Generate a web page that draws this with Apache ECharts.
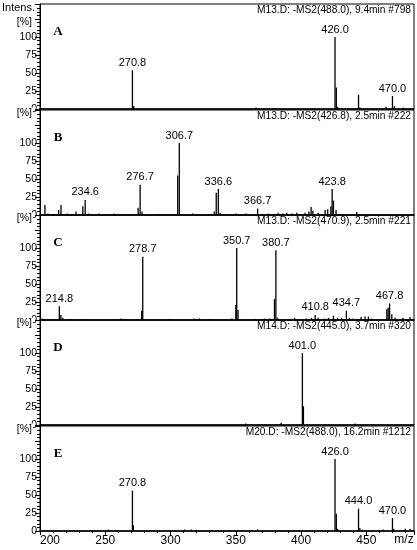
<!DOCTYPE html>
<html><head><meta charset="utf-8">
<script src="https://cdn.jsdelivr.net/npm/echarts@6/dist/echarts.min.js"></script>
<style>html,body{margin:0;padding:0;background:#fff}#c{width:417px;height:550px}</style>
</head><body><div id="c"></div>
<script>
// ---- data ----
const letters = ['A','B','C','D','E'];
const titles = [
  'M13.D: -MS2(488.0), 9.4min #798',
  'M13.D: -MS2(426.8), 2.5min #222',
  'M13.D: -MS2(470.9), 2.5min #221',
  'M14.D: -MS2(445.0), 3.7min #320',
  'M20.D: -MS2(488.0), 16.2min #1212'
];
const xTicks = [200,250,300,350,400,450];
const yTicks = [0,25,50,75,100];

const peaksA = [[365.5,2],[270.8,54],[271.8,4],[426.0,100],[427.0,30],[428.0,3],[444.0,20],[445.0,2],[465.1,3],[470.0,18],[471.5,4],[478.5,2]];
const labelsA = [270.8,426.0,470.0];

const peaksB = [[203.8,14],[206,2],[210,1.5],[214.3,7],[216.1,14],[221,2],[227.6,5],[232.8,12],[234.6,21],[237,2],[245,2],[250,1.5],[257,2],[263,1.5],[268,1.5],[275.2,10],[276.7,42],[278.2,5],[290,1.5],[298,1.5],[305.5,55],[306.7,100],[317,2],[333.5,5],[335.0,31],[336.6,36],[338,3],[343,1.5],[350,2],[358,2],[366.7,9],[375,2],[382.4,3],[386,2],[389,3],[393,2],[396.7,3],[403,3],[406,5],[407.7,11],[409,6],[413,3],[418.4,7],[420.4,8],[422.8,12],[423.8,36],[424.8,20],[426.8,7],[442.7,4]];
const labelsB = [234.6,276.7,306.7,336.6,366.7,423.8];

const peaksC = [[202,2],[207,1.5],[214.8,19],[216,7],[217.5,3],[223,1.5],[235,1.5],[258,1.5],[262,2],[265,1.5],[277.9,13],[278.7,88],[300,1.5],[318,2],[322,2],[330,1.5],[347,2],[350.0,21],[350.7,100],[351.7,14],[365,1.5],[372,2],[376,2],[379.6,29],[380.7,97],[382,3],[395,3],[404,2],[408,3],[410.8,7],[413,3],[418,2],[421,3],[424.8,6],[428,3],[431,3],[434.7,13],[437,3],[440,2],[446,4],[449,5],[451.6,5],[454,2],[465.7,15],[466.7,17],[467.8,23],[469.5,8],[472,3],[478,3],[483.5,4]];
const labelsC = [214.8,278.7,350.7,380.7,410.8,434.7,467.8];

const peaksD = [[357.6,2],[384.7,3],[401.0,100],[401.8,26],[441.4,2]];
const labelsD = [401.0];

const peaksE = [[252.4,2],[270.8,56],[271.5,8],[311,2],[316,2],[366.7,2],[384,1.5],[426.0,100],[427.0,24],[428,3],[444.0,31],[445,4],[447,2],[462.8,2],[470.0,18],[471,3],[479.7,3],[483.5,3]];
const labelsE = [270.8,426.0,444.0,470.0];

const allPeaks = [peaksA,peaksB,peaksC,peaksD,peaksE];
const allLabels = [labelsA,labelsB,labelsC,labelsD,labelsE];

// ---- layout ----
const tops = [4,110,215,320,426];
const H = 105;
const FONT = '"Liberation Sans", Arial, sans-serif';

const chart = echarts.init(document.getElementById('c'), null, {renderer:'canvas'});

const grids = tops.map(t => ({left:40, right:3, top:t, height:H, show:true, borderColor:'#000', borderWidth:1, backgroundColor:'transparent'}));
const xAxes = tops.map((t,i) => ({
  gridIndex:i, type:'value', min:200, max:486.5, interval:50,
  axisLine:{show:true, onZero:false, lineStyle:{color:'#000', width:1.5}},
  axisTick:{show:i===4, length:4, lineStyle:{color:'#000'}},
  minorTick:{show:i===4, splitNumber:5, length:2, lineStyle:{color:'#000'}},
  axisLabel:{show:i===4, color:'#000', fontSize:12, fontFamily:FONT, margin:4, alignMinLabel:'left', showMaxLabel:false,
    formatter:v => xTicks.indexOf(v) >= 0 ? String(v) : ''},
  splitLine:{show:false}
}));
const yAxes = tops.map((t,i) => ({
  gridIndex:i, type:'value', min:0, max:146, interval:25,
  axisLine:{show:true, lineStyle:{color:'#000', width:1}},
  axisTick:{show:true, length:5, lineStyle:{color:'#000'}},
  minorTick:{show:true, splitNumber:5, length:3, lineStyle:{color:'#000'}},
  axisLabel:{color:'#000', fontSize:10.5, fontFamily:FONT, margin:3, showMaxLabel:false,
    formatter:v => yTicks.indexOf(v) >= 0 ? String(v) : ''},
  splitLine:{show:false}
}));

const series = allPeaks.map((pk,i) => ({
  type:'bar', xAxisIndex:i, yAxisIndex:i, barWidth:1.3, barGap:'-100%',
  itemStyle:{color:'#000'}, silent:true,
  data: pk.map(p => {
    const lab = allLabels[i].indexOf(p[0]) >= 0;
    return {value:[p[0],p[1]], label:{show:lab, position:'top', distance:2, color:'#000', fontSize:11, fontFamily:FONT,
      formatter:o => o.value[0].toFixed(1)}};
  })
}));

const graphic = [];
graphic.push({type:'text', left:2, top:2, z:100, style:{text:'Intens.', fill:'#000', font:'11px '+FONT}});
tops.forEach((t,i) => {
  graphic.push({type:'text', z:100, x:33, y: i===0 ? t+18 : t+3, style:{text:'[%]', fill:'#000', font:'10.5px '+FONT, align:'right', verticalAlign:'middle', backgroundColor: i===0 ? 'transparent' : '#fff', padding:[0,1,0,2]}});
  graphic.push({type:'text', z:100, x:58, y:t+28, style:{text:letters[i], fill:'#000', font:'bold 13px "Liberation Serif", "Times New Roman", serif', align:'center', verticalAlign:'middle'}});
  graphic.push({type:'text', z:100, x:411, y:t+6, style:{text:titles[i], fill:'#000', font:'10.2px '+FONT, align:'right', verticalAlign:'middle'}});
});
graphic.push({type:'text', z:100, x:404, y:540, style:{text:'m/z', fill:'#000', font:'12px '+FONT, align:'center', verticalAlign:'middle'}});

chart.setOption({animation:false, backgroundColor:'#fff', grid:grids, xAxis:xAxes, yAxis:yAxes, series:series, graphic:graphic});
</script></body></html>
